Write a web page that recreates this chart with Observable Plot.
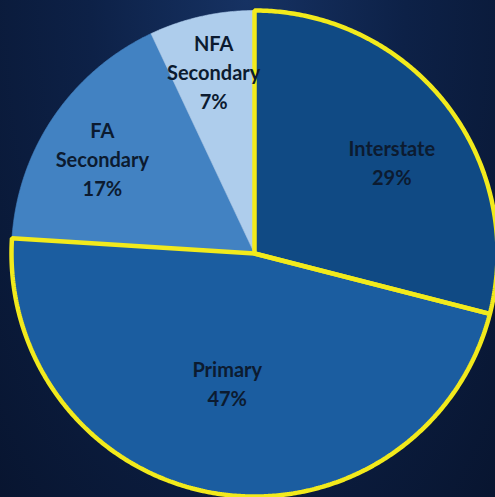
<!DOCTYPE html>
<html>
<head>
<meta charset="utf-8">
<script src="https://cdn.jsdelivr.net/npm/d3@7"></script>
<script src="https://cdn.jsdelivr.net/npm/@observablehq/plot@0.6"></script>
<style>
  html, body { margin: 0; padding: 0; background: #0b1a38; }
  #chart svg { display: block; background: radial-gradient(ellipse at 50% 0%, #163263 0%, #0d2147 45%, #081530 100%); }
</style>
</head>
<body>
<div id="chart"></div>
<script>
// ---- data ----
const categories = ["Interstate", "Primary", "FA\nSecondary", "NFA\nSecondary"];
const shares = [29, 47, 17, 7];
const percentLabels = ["29%", "47%", "17%", "7%"];
const highlighted = ["Interstate", "Primary"];

// ---- layout constants ----
const W = 495, H = 497;
const cx = 254, cy = 253, R = 243;
const labelRadius = [0.68, 0.54, 0.74, 0.77];
const labelAngleShift = [4, 3, -2, 0];
const colors = ["#104a84", "#1b5da0", "#4282c2", "#aecdec"];

const total = d3.sum(shares);
let acc = 0;
const slices = categories.map((c, i) => {
  const a0 = acc / total * 360;
  acc += shares[i];
  const a1 = acc / total * 360;
  return {category: c, a0, a1, i};
});

const rad = d => d * Math.PI / 180;
const pts = [];
for (const s of slices) {
  const n = Math.max(20, Math.ceil((s.a1 - s.a0) * 2));
  pts.push({category: s.category, x: 0, y: 0});
  for (let k = 0; k <= n; k++) {
    const a = rad(s.a0 + (s.a1 - s.a0) * k / n);
    pts.push({category: s.category, x: Math.sin(a), y: Math.cos(a)});
  }
  pts.push({category: s.category, x: 0, y: 0});
}

const labels = slices.map(s => {
  const a = rad((s.a0 + s.a1) / 2 + labelAngleShift[s.i]);
  const r = labelRadius[s.i];
  return {text: s.category + "\n" + percentLabels[s.i], x: r * Math.sin(a), y: r * Math.cos(a)};
});

const chart = Plot.plot({
  width: W, height: H,
  margin: 0,
  x: {domain: [-cx / R, (W - cx) / R], axis: null},
  y: {domain: [-(H - cy) / R, cy / R], axis: null},
  color: {domain: categories, range: colors},
  marks: [
    Plot.line(pts, {x: "x", y: "y", z: "category", fill: "category", stroke: "category", strokeWidth: 0.6, curve: "linear"}),
    Plot.line(pts.filter(p => highlighted.includes(p.category)), {x: "x", y: "y", z: "category", stroke: "#f2ea1c", strokeWidth: 4.5, strokeLinejoin: "miter", curve: "linear"}),
    Plot.text(labels, {x: "x", y: "y", text: "text", fill: "#0c1b30", fontSize: 20, lineHeight: 1.45, fontFamily: "Lato, 'Open Sans', sans-serif", fontWeight: 700})
  ]
});
document.getElementById("chart").appendChild(chart);
</script>
</body>
</html>
